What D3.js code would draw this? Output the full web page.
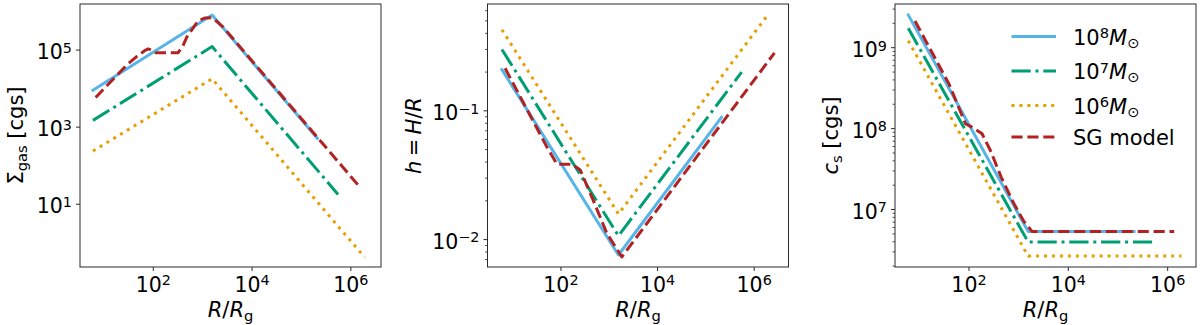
<!DOCTYPE html>
<html><head><meta charset="utf-8">
<script src="https://cdn.jsdelivr.net/npm/d3@7"></script>
<style>
html,body{margin:0;padding:0;background:#fff;}
svg{display:block;font-family:"DejaVu Sans",sans-serif;}
</style></head><body>
<svg id="chart" width="1200" height="325"></svg>
<script>
// ---------------- data ----------------
const R_m8 = [6, 1550, 2.1e5];
const R_m7 = [6, 1550, 5.5e5];
const R_m6 = [6, 1550, 1.9e6];
const R_sg_sigma = [6.8, 29, 46, 70, 79, 90, 112, 316, 400, 480, 810, 1120, 1580, 2570, 1.48e6];
const R_sg_h = [7.0, 51, 83, 169, 251, 437, 891, 1820, 2.63e6];
const R_sg_cs = [8.2, 39.8, 85, 112, 182, 269, 447, 794, 1259, 1862, 1.35e6];

const sigma_m8 = [9.1e3, 8.1e5, 513];
const sigma_m7 = [1.5e3, 1.23e5, 18];
const sigma_m6 = [240, 1.8e4, 0.42];
const sigma_sg = [5.9e3, 4.1e4, 6.8e4, 1.0e5, 1.07e5, 1.0e5, 8.5e4, 8.5e4, 1.3e5, 2.2e5, 5.75e5, 6.8e5, 6.9e5, 4.0e5, 29];

const h_m8 = [0.209, 0.00759, 0.089];
const h_m7 = [0.30, 0.0107, 0.20];
const h_m6 = [0.427, 0.0158, 0.555];
const h_sg = [0.214, 0.0525, 0.0385, 0.0385, 0.0347, 0.0214, 0.0112, 0.00733, 0.282];

const cs_m8 = [2.54e9, 5.37e6, 5.37e6];
const cs_m7 = [1.74e9, 3.98e6, 3.98e6];
const cs_m6 = [1.22e9, 2.66e6, 2.66e6];
const cs_sg = [2.14e9, 3.55e8, 1.15e8, 1.05e8, 8.7e7, 5.4e7, 2.5e7, 1.2e7, 7.2e6, 5.37e6, 5.37e6];

const xTicks = [1e2, 1e4, 1e6];
const sigmaTicks = [1e1, 1e3, 1e5];
const hTicks = [1e-2, 1e-1];
const csTicks = [1e7, 1e8, 1e9];

const legendMass = ["8", "7", "6"];
const legendOther = "SG model";

// ---------------- styles ----------------
const COL = {m8: "#56B4E9", m7: "#009E73", m6: "#E69F00", sg: "#B22222"};
const DASH = {m8: null, m7: "19.2,4.8,3,4.8", m6: "3,4.95", sg: "11.1,4.8"};
const LW = 3;
const AX = "#2a2a2a";
const TICKFS = 20.5, LABFS = 21;

const svg = d3.select("#chart");
const TOP = 4, BOT = 267, W = 301;

const panels = [
  {left: 80, xd: [0.516, 6.61], yd: [-0.628, 6.195], yTicks: sigmaTicks, minor: false,
   series: [[R_m8, sigma_m8, "m8"], [R_m7, sigma_m7, "m7"], [R_m6, sigma_m6, "m6"], [R_sg_sigma, sigma_sg, "sg"]],
   ylabX: 23, ylab: "sigma"},
  {left: 487.5, xd: [0.48, 6.71], yd: [-2.213, -0.17], yTicks: hTicks, minor: true,
   series: [[R_m8, h_m8, "m8"], [R_m7, h_m7, "m7"], [R_m6, h_m6, "m6"], [R_sg_h, h_sg, "sg"]],
   ylabX: 421, ylab: "h"},
  {left: 895, xd: [0.511, 6.57], yd: [6.29, 9.54], yTicks: csTicks, minor: true,
   series: [[R_m8, cs_m8, "m8"], [R_m7, cs_m7, "m7"], [R_m6, cs_m6, "m6"], [R_sg_cs, cs_sg, "sg"]],
   ylabX: 838, ylab: "cs"}
];

function powLabel(sel, exp, fs) {
  sel.append("tspan").text("10");
  sel.append("tspan").attr("font-size", fs * 0.7).attr("dy", -fs * 0.3).text(exp);
}
function expStr(v) {
  const e = Math.round(Math.log10(v));
  return e < 0 ? "\u2212" + (-e) : String(e);
}

panels.forEach(p => {
  const x = d3.scaleLog().domain([Math.pow(10, p.xd[0]), Math.pow(10, p.xd[1])]).range([p.left, p.left + W]);
  const y = d3.scaleLog().domain([Math.pow(10, p.yd[0]), Math.pow(10, p.yd[1])]).range([BOT, TOP]);
  const g = svg.append("g");

  // lines
  p.series.forEach(([rs, vs, key]) => {
    const line = d3.line().x(d => x(d[0])).y(d => y(d[1])).curve(d3.curveLinear);
    g.append("path").datum(d3.zip(rs, vs))
      .attr("d", line).attr("fill", "none")
      .attr("stroke", COL[key]).attr("stroke-width", LW)
      .attr("stroke-dasharray", DASH[key])
      .attr("stroke-linecap", key === "m8" ? "square" : "butt")
      .attr("stroke-linejoin", "round");
  });

  // frame
  g.append("rect").attr("x", p.left).attr("y", TOP).attr("width", W).attr("height", BOT - TOP)
    .attr("fill", "none").attr("stroke", AX).attr("stroke-width", 1);

  // x ticks
  xTicks.forEach(t => {
    const px = x(t);
    g.append("line").attr("x1", px).attr("x2", px).attr("y1", BOT).attr("y2", BOT + 4)
      .attr("stroke", AX).attr("stroke-width", 1);
    const tx = g.append("text").attr("x", px).attr("y", BOT + 24.5)
      .attr("text-anchor", "middle").attr("font-size", TICKFS).attr("fill", "#000");
    powLabel(tx, expStr(t), TICKFS);
  });

  // y ticks
  p.yTicks.forEach(t => {
    const py = y(t);
    g.append("line").attr("x1", p.left - 4).attr("x2", p.left).attr("y1", py).attr("y2", py)
      .attr("stroke", AX).attr("stroke-width", 1);
    const tx = g.append("text").attr("x", p.left - 8).attr("y", py + 9)
      .attr("text-anchor", "end").attr("font-size", TICKFS).attr("fill", "#000");
    powLabel(tx, expStr(t), TICKFS);
  });
  if (p.minor) {
    const majors = p.yTicks.map(t => Math.round(Math.log10(t) * 1000));
    y.ticks().filter(t => !majors.includes(Math.round(Math.log10(t) * 1000)))
      .forEach(t => {
        const py = y(t);
        if (py < TOP || py > BOT) return;
        g.append("line").attr("x1", p.left - 2.5).attr("x2", p.left).attr("y1", py).attr("y2", py)
          .attr("stroke", AX).attr("stroke-width", 0.8);
      });
  }

  // x label R/R_g
  const xl = g.append("text").attr("x", p.left + W / 2).attr("y", 317)
    .attr("text-anchor", "middle").attr("font-size", LABFS);
  xl.append("tspan").attr("font-style", "italic").text("R");
  xl.append("tspan").text("/");
  xl.append("tspan").attr("font-style", "italic").text("R");
  xl.append("tspan").attr("font-size", LABFS * 0.7).attr("dy", 4).text("g");

  // y label
  const cy = (TOP + BOT) / 2;
  const yl = g.append("text").attr("transform", `translate(${p.ylabX},${cy}) rotate(-90)`)
    .attr("text-anchor", "middle").attr("font-size", LABFS);
  if (p.ylab === "sigma") {
    yl.append("tspan").text("\u03A3");
    yl.append("tspan").attr("font-size", LABFS * 0.7).attr("dy", 4).text("gas");
    yl.append("tspan").attr("dy", -4).text("\u00A0[cgs]");
  } else if (p.ylab === "h") {
    yl.append("tspan").attr("font-style", "italic").text("h");
    yl.append("tspan").text("\u2009=\u2009");
    yl.append("tspan").attr("font-style", "italic").text("H");
    yl.append("tspan").text("/");
    yl.append("tspan").attr("font-style", "italic").text("R");
  } else {
    yl.append("tspan").attr("font-style", "italic").text("c");
    yl.append("tspan").attr("font-size", LABFS * 0.7).attr("dy", 4).text("s");
    yl.append("tspan").attr("dy", -4).text("\u00A0[cgs]");
  }
});

// ---------------- legend ----------------
const legRows = [36.5, 71, 105.5, 137];
const legKeys = ["m8", "m7", "m6", "sg"];
const lg = svg.append("g");
legKeys.forEach((k, i) => {
  const ry = legRows[i];
  lg.append("line").attr("x1", 1011.5).attr("x2", 1056).attr("y1", ry).attr("y2", ry)
    .attr("stroke", COL[k]).attr("stroke-width", LW).attr("stroke-dasharray", DASH[k]);
  const t = lg.append("text").attr("x", 1073).attr("y", ry + 8).attr("font-size", LABFS);
  if (i < 3) {
    t.append("tspan").text("10");
    t.append("tspan").attr("font-size", LABFS * 0.7).attr("dy", -LABFS * 0.3).text(legendMass[i]);
    t.append("tspan").attr("dy", LABFS * 0.3).attr("font-style", "italic").text("M");
    t.append("tspan").attr("font-size", LABFS * 0.7).attr("dy", 3).text("\u2299");
  } else {
    t.text(legendOther);
  }
});
</script>
</body></html>
